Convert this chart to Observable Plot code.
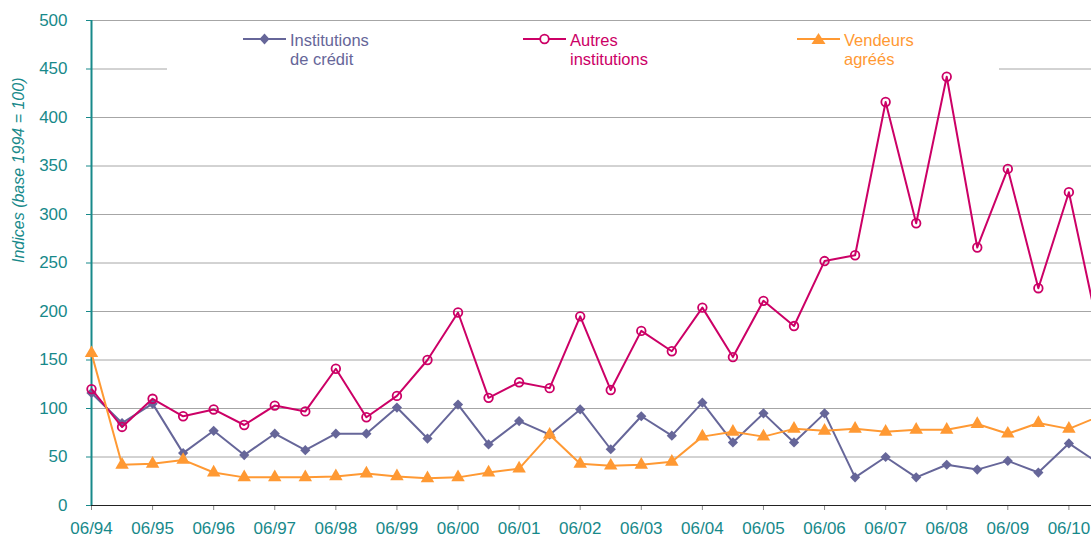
<!DOCTYPE html>
<html><head><meta charset="utf-8">
<script src="https://cdn.jsdelivr.net/npm/d3@7"></script>
<script src="https://cdn.jsdelivr.net/npm/@observablehq/plot@0.6"></script>
<style>
html,body{margin:0;padding:0;background:#fff;overflow:hidden;}
#wrap{position:relative;width:1091px;height:538px;font-family:"Liberation Sans",Arial,sans-serif;}
#legend{position:absolute;left:167px;top:24px;width:832px;height:46px;background:#fff;}
.item{position:absolute;top:0;}
.item svg{position:absolute;overflow:visible;}
.item .lbl{position:absolute;font-size:16.5px;line-height:19px;white-space:nowrap;}
</style></head>
<body><div id="wrap"><div id="chart"></div><div id="legend"></div></div>
<script>
const periods = ["06/94","12/94","06/95","12/95","06/96","12/96","06/97","12/97","06/98","12/98",
  "06/99","12/99","06/00","12/00","06/01","12/01","06/02","12/02","06/03","12/03",
  "06/04","12/04","06/05","12/05","06/06","12/06","06/07","12/07","06/08","12/08",
  "06/09","12/09","06/10","12/10"];
const credit = [116,85,105,54,77,52,74,57,74,74,101,69,104,63,87,73,99,58,92,72,106,65,95,65,95,29,50,29,42,37,46,34,64,43];
const autres = [120,81,110,92,99,83,103,97,141,91,113,150,199,111,127,121,195,119,180,159,204,153,211,185,252,258,416,291,442,266,347,224,323,176];
const vendeurs = [157,42,43,47,34,29,29,29,30,33,30,28,29,34,38,73,43,41,42,45,71,76,71,79,77,79,76,78,78,84,74,85,79,92];
const seriesNames = [["Institutions","de crédit"],["Autres","institutions"],["Vendeurs","agréés"]];
const yTicks = [0,50,100,150,200,250,300,350,400,450,500];
const xTickLabels = ["06/94","06/95","06/96","06/97","06/98","06/99","06/00","06/01","06/02","06/03","06/04","06/05","06/06","06/07","06/08","06/09","06/10"];
const yLabel = "Indices (base 1994 = 100)";

const teal = "#17898a";
const colors = ["#666699", "#cc0066", "#ff9933"];
const symbols = ["diamond2", "circle", "triangle"];

const rows = (vals) => vals.map((v, i) => ({i, v}));
const xTickIdx = xTickLabels.map(l => periods.indexOf(l));

const chart = Plot.plot({
  width: 1091, height: 538,
  marginLeft: 91, marginRight: 0, marginTop: 20, marginBottom: 33,
  x: {type: "linear", domain: [0, 32.74]},
  y: {domain: [0, 500]},
  style: {fontFamily: "'Liberation Sans', Arial, sans-serif", fontSize: "17px", background: "#fff", overflow: "hidden"},
  marks: [
    Plot.ruleY(yTicks.filter(d => d > 0), {stroke: "#a6a6a6", strokeWidth: 1}),
    Plot.axisY({ticks: yTicks, tickSize: 5, tickPadding: 19, stroke: teal, fill: teal, fontSize: 17, label: null}),
    Plot.axisX({ticks: xTickIdx, tickFormat: i => periods[i], tickSize: 5, tickPadding: 11, stroke: "#888", fill: teal, fontSize: 17, label: null}),
    Plot.ruleY([0], {stroke: "#222", strokeWidth: 1.2}),
    Plot.ruleX([0], {stroke: teal, strokeWidth: 2}),
    Plot.text([yLabel], {frameAnchor: "left", dx: -73, rotate: -90, fill: teal, fontStyle: "italic", fontSize: 16}),
    Plot.line(rows(credit), {x: "i", y: "v", stroke: colors[0], strokeWidth: 2, clip: true}),
    Plot.dot(rows(credit), {x: "i", y: "v", symbol: symbols[0], r: 4.6, fill: colors[0]}),
    Plot.line(rows(autres), {x: "i", y: "v", stroke: colors[1], strokeWidth: 2, clip: true}),
    Plot.dot(rows(autres), {x: "i", y: "v", symbol: symbols[1], r: 4.3, fill: "none", stroke: colors[1], strokeWidth: 1.8}),
    Plot.line(rows(vendeurs), {x: "i", y: "v", stroke: colors[2], strokeWidth: 2, clip: true}),
    Plot.dot(rows(vendeurs), {x: "i", y: "v", symbol: symbols[2], r: 5, fill: colors[2]})
  ]
});
document.getElementById("chart").appendChild(chart);

// Legend
const legend = document.getElementById("legend");
const symLeft = [76, 356, 630];
const markerPaths = [
  '<path d="M0,-5.5L5,0L0,5.5L-5,0Z" fill="COL"/>',
  '<circle r="4.3" fill="#fff" stroke="COL" stroke-width="1.8"/>',
  '<path d="M0,-6L7,5L-7,5Z" fill="COL"/>'
];
seriesNames.forEach((lines, k) => {
  const it = document.createElement("div");
  it.className = "item";
  it.style.left = symLeft[k] + "px";
  it.innerHTML =
    `<svg width="44" height="14" style="left:0;top:8px"><line x1="0" x2="43" y1="7" y2="7" stroke="${colors[k]}" stroke-width="2"/>` +
    `<g transform="translate(21.5,7)">${markerPaths[k].replace("COL", colors[k])}</g></svg>` +
    `<div class="lbl" style="left:47px;top:7px;color:${colors[k]}">${lines[0]}<br>${lines[1]}</div>`;
  legend.appendChild(it);
});
</script>
</body></html>
